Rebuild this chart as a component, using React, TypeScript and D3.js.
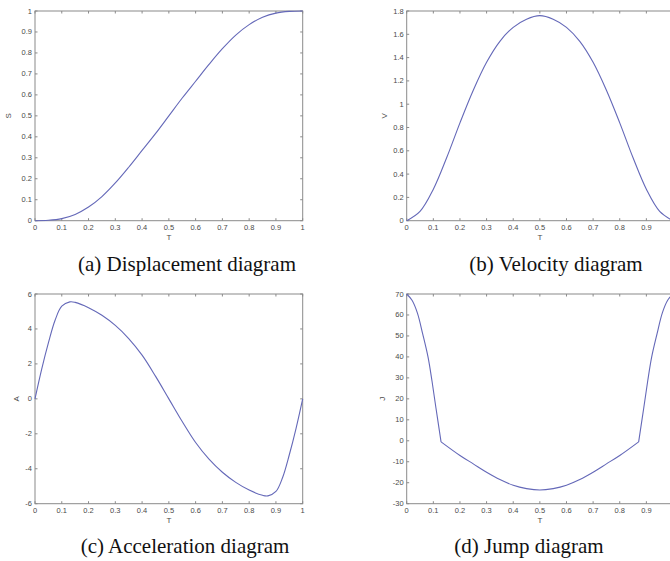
import React from "react";
import * as d3 from "d3";

// ---------- data ----------
const T_SV = [0, 0.05, 0.1, 0.15, 0.2, 0.25, 0.3, 0.35, 0.4, 0.45, 0.5, 0.55, 0.6, 0.65, 0.7, 0.75, 0.8, 0.85, 0.9, 0.95, 1];
const S_VALUES = [0, 0.002, 0.01, 0.03, 0.065, 0.115, 0.18, 0.255, 0.335, 0.415, 0.5, 0.585, 0.665, 0.745, 0.82, 0.885, 0.935, 0.97, 0.99, 0.998, 1];
const V_VALUES = [0, 0.08, 0.27, 0.54, 0.84, 1.12, 1.36, 1.54, 1.66, 1.73, 1.76, 1.73, 1.66, 1.54, 1.36, 1.12, 0.84, 0.54, 0.27, 0.08, 0];

const T_A = [0, 0.025, 0.05, 0.075, 0.1, 0.13, 0.15, 0.2, 0.25, 0.3, 0.35, 0.4, 0.45, 0.5, 0.55, 0.6, 0.65, 0.7, 0.75, 0.8, 0.85, 0.87, 0.9, 0.925, 0.95, 0.975, 1];
const A_VALUES = [0, 1.7, 3.2, 4.5, 5.3, 5.55, 5.52, 5.22, 4.78, 4.2, 3.45, 2.5, 1.3, 0, -1.3, -2.5, -3.45, -4.2, -4.78, -5.22, -5.52, -5.55, -5.3, -4.5, -3.2, -1.7, 0];

const T_J = [0, 0.02, 0.04, 0.06, 0.08, 0.095, 0.11, 0.129, 0.2, 0.25, 0.3, 0.35, 0.4, 0.45, 0.5, 0.55, 0.6, 0.65, 0.7, 0.75, 0.8, 0.871, 0.89, 0.905, 0.92, 0.94, 0.96, 0.98, 1];
const J_VALUES = [70, 67, 61, 51, 40, 28.5, 15.5, -0.5, -7, -11, -15, -18.5, -21.2, -22.8, -23.5, -22.8, -21.2, -18.5, -15, -11, -7, -0.5, 15.5, 28.5, 40, 51, 61, 67, 70];
// indices in T_J where the jump curve has a corner
const J_CORNERS = [7, 21];

const X_TICKS = [0, 0.1, 0.2, 0.3, 0.4, 0.5, 0.6, 0.7, 0.8, 0.9, 1];
const S_TICKS = [0, 0.1, 0.2, 0.3, 0.4, 0.5, 0.6, 0.7, 0.8, 0.9, 1];
const V_TICKS = [0, 0.2, 0.4, 0.6, 0.8, 1, 1.2, 1.4, 1.6, 1.8];
const A_TICKS = [-6, -4, -2, 0, 2, 4, 6];
const J_TICKS = [-30, -20, -10, 0, 10, 20, 30, 40, 50, 60, 70];

const Y_LABELS = ["S", "V", "A", "J"];
const X_LABEL = "T";
const CAPTIONS = ["(a) Displacement diagram", "(b) Velocity diagram", "(c) Acceleration diagram", "(d) Jump diagram"];

// ---------- layout ----------
const W = 670;
const H = 561;
const LINE_COLOR = "#6468b8";
const AXIS_COLOR = "#8a8a8a";
const TEXT_COLOR = "#4a4a4a";

type PanelProps = {
  box: { l: number; r: number; t: number; b: number };
  ts: number[];
  vs: number[];
  corners?: number[];
  yDomain: [number, number];
  yTicks: number[];
  yLabel: string;
  yLabelX: number;
  caption: string;
  captionX: number;
  captionY: number;
};

function fmt(v: number) {
  return String(+v.toFixed(2));
}

function Panel(p: PanelProps) {
  const { box } = p;
  const x = d3.scaleLinear().domain([0, 1]).range([box.l, box.r]);
  const y = d3.scaleLinear().domain(p.yDomain).range([box.b, box.t]);
  const pts = p.ts.map((t, i) => [t, p.vs[i]] as [number, number]);
  const gen = d3
    .line<[number, number]>()
    .x((d) => x(d[0]))
    .y((d) => y(d[1]))
    .curve(d3.curveCatmullRom.alpha(0.5));
  const cuts = [0, ...(p.corners || []), pts.length - 1];
  let path = "";
  for (let i = 0; i < cuts.length - 1; i++) {
    path += gen(pts.slice(cuts[i], cuts[i + 1] + 1)) || "";
  }
  const tl = 2.5;
  const midY = (box.t + box.b) / 2;
  return (
    <g>
      <rect x={box.l} y={box.t} width={box.r - box.l} height={box.b - box.t} fill="white" stroke={AXIS_COLOR} strokeWidth={1} />
      {X_TICKS.map((t) => (
        <g key={"x" + t}>
          <line x1={x(t)} x2={x(t)} y1={box.b} y2={box.b - tl} stroke={AXIS_COLOR} />
          <line x1={x(t)} x2={x(t)} y1={box.t} y2={box.t + tl} stroke={AXIS_COLOR} />
          {x(t) < W - 4 && (
            <text x={x(t)} y={box.b + 9} textAnchor="middle" fontSize={7.5} fill={TEXT_COLOR} fontFamily="Liberation Sans, Arial, sans-serif">
              {fmt(t)}
            </text>
          )}
        </g>
      ))}
      {p.yTicks.map((v) => (
        <g key={"y" + v}>
          <line x1={box.l} x2={box.l + tl} y1={y(v)} y2={y(v)} stroke={AXIS_COLOR} />
          <line x1={box.r} x2={box.r - tl} y1={y(v)} y2={y(v)} stroke={AXIS_COLOR} />
          <text x={box.l - 3} y={y(v) + 2.5} textAnchor="end" fontSize={7.5} fill={TEXT_COLOR} fontFamily="Liberation Sans, Arial, sans-serif">
            {fmt(v)}
          </text>
        </g>
      ))}
      <path d={path} fill="none" stroke={LINE_COLOR} strokeWidth={1.1} strokeLinejoin="round" />
      <text x={(box.l + box.r) / 2} y={box.b + 19} textAnchor="middle" fontSize={8} fill={TEXT_COLOR} fontFamily="Liberation Sans, Arial, sans-serif">
        {X_LABEL}
      </text>
      <text
        transform={`translate(${p.yLabelX},${midY}) rotate(-90)`}
        textAnchor="middle"
        fontSize={8}
        fill={TEXT_COLOR}
        fontFamily="Liberation Sans, Arial, sans-serif"
      >
        {p.yLabel}
      </text>
      <text x={p.captionX} y={p.captionY} textAnchor="middle" fontSize={21} fill="#111" fontFamily="Liberation Serif, Times New Roman, serif">
        {p.caption}
      </text>
    </g>
  );
}

export default function App() {
  const topBox = { t: 11, b: 220.7 };
  const botBox = { t: 294, b: 503.7 };
  const leftX = { l: 35, r: 302.7 };
  const rightX = { l: 406.7, r: 673 };
  return (
    <svg width={W} height={H} style={{ position: "absolute", left: 0, top: 0, background: "white" }}>
      <rect x={0} y={0} width={W} height={H} fill="white" />
      <Panel box={{ ...leftX, ...topBox }} ts={T_SV} vs={S_VALUES} yDomain={[0, 1]} yTicks={S_TICKS} yLabel={Y_LABELS[0]} yLabelX={11} caption={CAPTIONS[0]} captionX={187} captionY={271} />
      <Panel box={{ ...rightX, ...topBox }} ts={T_SV} vs={V_VALUES} yDomain={[0, 1.8]} yTicks={V_TICKS} yLabel={Y_LABELS[1]} yLabelX={387} caption={CAPTIONS[1]} captionX={556} captionY={271} />
      <Panel box={{ ...leftX, ...botBox }} ts={T_A} vs={A_VALUES} yDomain={[-6, 6]} yTicks={A_TICKS} yLabel={Y_LABELS[2]} yLabelX={19} caption={CAPTIONS[2]} captionX={185} captionY={553} />
      <Panel box={{ ...rightX, ...botBox }} ts={T_J} vs={J_VALUES} corners={J_CORNERS} yDomain={[-30, 70]} yTicks={J_TICKS} yLabel={Y_LABELS[3]} yLabelX={385} caption={CAPTIONS[3]} captionX={529} captionY={553} />
    </svg>
  );
}
